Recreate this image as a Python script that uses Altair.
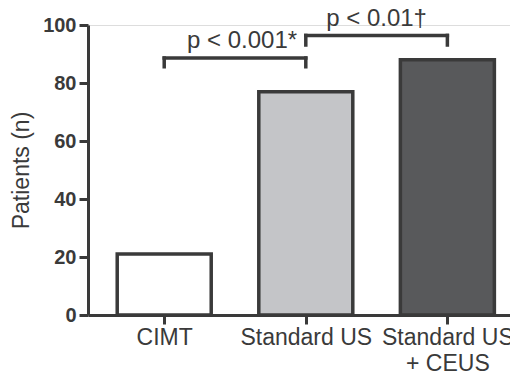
import altair as alt
import pandas as pd

# ---- data ----
categories = ["CIMT", "Standard US", "Standard US|+ CEUS"]
patients = [21, 77, 88]
bar_colors = ["#ffffff", "#c4c5c8", "#58595b"]

bracket_from = [0, 1]
bracket_to = [1, 2]
bracket_level = [88.6, 96.4]
bracket_drop = [85.6, 93.1]
p_labels = ["p < 0.001*", "p < 0.01\u2020"]
p_label_x = [0.55, 1.5]
p_label_y = [92.0, 99.5]

INK = "#3a3a3a"
FONT = "Liberation Sans"

bars_df = pd.DataFrame({
    "idx": list(range(len(categories))),
    "cat": categories,
    "patients": patients,
})
br_df = pd.DataFrame({
    "x0": bracket_from, "x1": bracket_to,
    "yl": bracket_level, "yd": bracket_drop,
})
lab_df = pd.DataFrame({"x": p_label_x, "y": p_label_y, "t": p_labels})

label_arr = "[" + ",".join(
    "[" + ",".join("'" + s + "'" for s in c.split("|")) + "]" for c in categories
) + "]"

xscale = alt.Scale(domain=[-0.503, 2.407], nice=False, zero=False)
yscale = alt.Scale(domain=[0, 100], nice=False)

bars = alt.Chart(bars_df).mark_bar(
    width=94, stroke=INK, strokeWidth=3.5
).encode(
    x=alt.X("idx:Q", scale=xscale, title=None,
            axis=alt.Axis(values=list(range(len(categories))),
                          labelExpr=label_arr + "[datum.value]",
                          grid=False, domainColor=INK, domainWidth=3,
                          tickColor=INK, tickWidth=3, tickSize=9,
                          labelFont=FONT, labelFontSize=23, labelColor=INK,
                          labelPadding=2, labelLineHeight=26,
                          labelFlush=False, labelOverlap=False)),
    y=alt.Y("patients:Q", scale=yscale, title="Patients (n)",
            axis=alt.Axis(values=[0, 20, 40, 60, 80, 100], grid=False,
                          domainColor=INK, domainWidth=3,
                          tickColor=INK, tickWidth=3, tickSize=9,
                          labelFont=FONT, labelFontSize=20, labelFontWeight="bold",
                          labelColor=INK, labelPadding=3,
                          titleFont=FONT, titleFontSize=23, titleFontWeight="normal",
                          titleColor=INK, titleAngle=270, titleBaseline="alphabetic",
                          titleX=-60, titleY=145, titleAlign="center")),
    color=alt.Color("cat:N", scale=alt.Scale(domain=categories, range=bar_colors),
                    legend=None),
)

hrule = alt.Chart(br_df).mark_rule(color=INK, strokeWidth=3.5, strokeCap="square").encode(
    x=alt.X("x0:Q", scale=xscale), x2="x1:Q", y=alt.Y("yl:Q", scale=yscale)
)
vrule_l = alt.Chart(br_df).mark_rule(color=INK, strokeWidth=3.5, strokeCap="square").encode(
    x=alt.X("x0:Q", scale=xscale), y=alt.Y("yl:Q", scale=yscale), y2="yd:Q"
)
vrule_r = alt.Chart(br_df).mark_rule(color=INK, strokeWidth=3.5, strokeCap="square").encode(
    x=alt.X("x1:Q", scale=xscale), y=alt.Y("yl:Q", scale=yscale), y2="yd:Q"
)
texts = alt.Chart(lab_df).mark_text(
    font=FONT, fontSize=24, color=INK, baseline="alphabetic", align="center"
).encode(
    x=alt.X("x:Q", scale=xscale), y=alt.Y("y:Q", scale=yscale), text="t:N"
)

chart = alt.layer(bars, hrule, vrule_l, vrule_r, texts).properties(
    width=422, height=290,
    autosize=alt.AutoSizeParams(type="none"),
    padding={"left": 80, "top": 17, "right": 0, "bottom": 60},
).configure_view(stroke=None).configure(background="white")

chart.save("out.html", embed_options={"renderer": "svg", "actions": False})
